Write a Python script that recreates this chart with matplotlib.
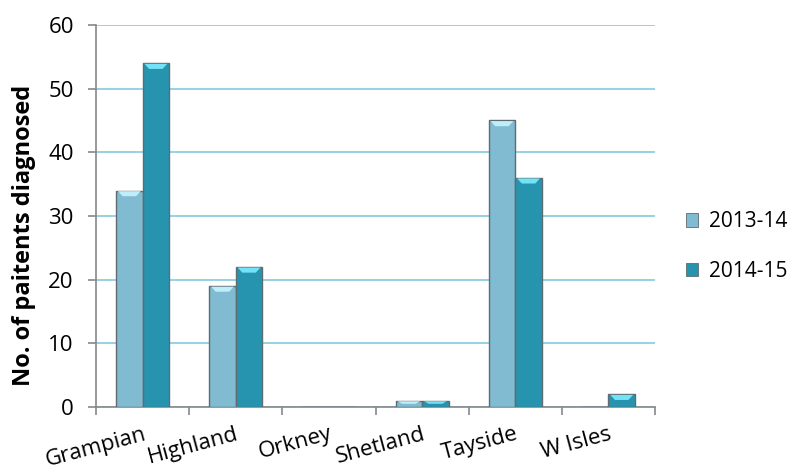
import matplotlib
matplotlib.use('Agg')
import matplotlib.pyplot as plt
from matplotlib.patches import Polygon
import numpy as np

regions = ["Grampian", "Highland", "Orkney", "Shetland", "Tayside", "W Isles"]
years = ["2013-14", "2014-15"]
diag_1314 = [34, 19, 0, 1, 45, 0]
diag_1415 = [54, 22, 0, 1, 36, 2]

colours = ["#80bbd2", "#2794af"]
tops = ["#bdeefa", "#72e2f6"]
edge = "#5f6b70"

plt.rcParams['font.family'] = ['Open Sans', 'DejaVu Sans']

fig = plt.figure(figsize=(8.04, 4.74), dpi=100)
ax = fig.add_axes([0.1194, 0.1414, 0.6953, 0.8059])

x = np.arange(len(regions))
w = 0.285
series = [diag_1314, diag_1415]
for i, vals in enumerate(series):
    pos = x + (i - 0.5) * w
    bars = ax.bar(pos, vals, width=w, color=colours[i], edgecolor=edge,
                  linewidth=1.0, zorder=3)
    # light bevel on the top of each bar
    for b, v in zip(bars, vals):
        if v <= 0:
            continue
        x0 = b.get_x()
        x1 = x0 + b.get_width()
        bev = min(0.9, v * 0.5)
        tri = Polygon([[x0 + 0.02, v - 0.1], [x1 - 0.02, v - 0.1],
                       [x1 - 0.07, v - bev], [x0 + 0.07, v - bev]],
                      closed=True, color=tops[i], zorder=4, lw=0)
        ax.add_patch(tri)

ax.set_xlim(-0.5, len(regions) - 0.5)
ax.set_ylim(0, 60)
ax.set_yticks(range(0, 61, 10))
ax.yaxis.grid(True, color="#8ccfe0", linewidth=1.3, zorder=0)
ax.set_axisbelow(True)

ax.set_xticks(np.arange(-0.5, len(regions), 1.0))
ax.set_xticklabels([])
ax.set_xticks(x, minor=True)
ax.set_xticklabels(regions, minor=True, rotation=15, fontsize=16,
                   ha='right', va='top', rotation_mode='anchor')
ax.tick_params(axis='x', which='minor', length=0, pad=12)
ax.tick_params(axis='x', which='major', length=6, color="#888888", width=1.2)
ax.tick_params(axis='y', length=6, color="#888888", width=1.2, labelsize=16,
               pad=10)

for s in ['top', 'right']:
    ax.spines[s].set_visible(False)
for s in ['left', 'bottom']:
    ax.spines[s].set_color("#888888")
    ax.spines[s].set_linewidth(1.2)

ax.set_ylabel("No. of paitents diagnosed", fontsize=17, fontweight='bold')
ax.yaxis.set_label_coords(-0.108, 0.45)

handles = [plt.Rectangle((0, 0), 1, 1, facecolor=colours[i], edgecolor=edge,
                         linewidth=0.6) for i in range(2)]
fig.legend(handles, years, loc='center left', bbox_to_anchor=(0.84, 0.48),
           frameon=False, fontsize=15, handlelength=0.6, handleheight=0.6,
           handletextpad=0.5, labelspacing=1.35, borderaxespad=0.1)

plt.savefig('out.png', dpi=100)
